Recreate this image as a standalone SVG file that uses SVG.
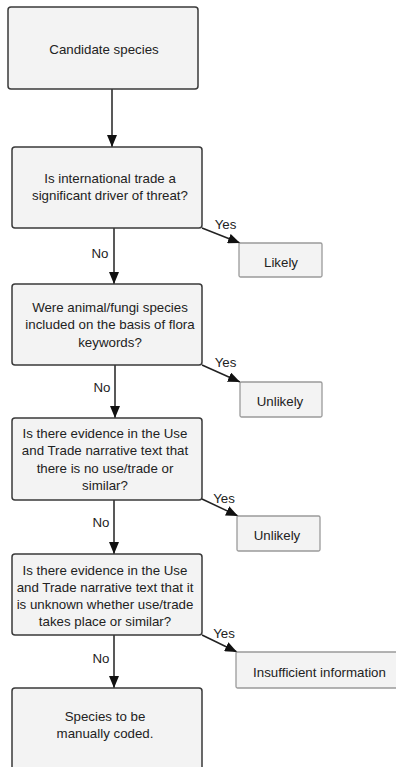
<svg xmlns="http://www.w3.org/2000/svg" width="396" height="767" viewBox="0 0 396 767">
<style>
.q{fill:#f3f3f3;stroke:#3a3a3a;stroke-width:1.5}
.o{fill:#f3f3f3;stroke:#9a9a9a;stroke-width:1.3}
.t{font-family:"Liberation Sans",Arial,sans-serif;font-size:13.3px;fill:#222;text-anchor:middle}
.c{stroke:#222;stroke-width:1.5;fill:none;marker-end:url(#ah)}
</style>
<defs>
<marker id="ah" viewBox="0 0 12 10" refX="12" refY="5" markerWidth="12" markerHeight="10" markerUnits="userSpaceOnUse" orient="auto">
<path d="M0,0 L12,5 L0,10 Z" fill="#111"/>
</marker>
</defs>
<rect width="396" height="767" fill="#fff"/>
<g id="connectors">
<line class="c" x1="112" y1="89" x2="112" y2="147"/>
<line class="c" x1="114" y1="228" x2="114" y2="284"/>
<line class="c" x1="115" y1="365" x2="115" y2="418"/>
<line class="c" x1="114" y1="500" x2="114" y2="554"/>
<line class="c" x1="114" y1="635" x2="114" y2="688"/>
<line class="c" x1="202" y1="228" x2="240" y2="243"/>
<line class="c" x1="202" y1="365" x2="240" y2="382"/>
<line class="c" x1="202" y1="499" x2="238" y2="516"/>
<line class="c" x1="202" y1="635" x2="237" y2="652"/>
<text class="t" x="225.5" y="229">Yes</text>
<text class="t" x="225.5" y="367">Yes</text>
<text class="t" x="224" y="503">Yes</text>
<text class="t" x="224" y="638">Yes</text>
<text class="t" x="100" y="258">No</text>
<text class="t" x="102" y="392">No</text>
<text class="t" x="101" y="527">No</text>
<text class="t" x="101" y="663">No</text>
</g>
<g id="n1"><rect class="q" x="8" y="7" width="190" height="82" rx="3"/><text class="t" x="104" y="53.5">Candidate species</text></g>
<g id="n2"><rect class="q" x="12" y="147" width="190" height="81" rx="3"/><text class="t" x="110" y="182.5">Is international trade a</text><text class="t" x="110" y="199.5">significant driver of threat?</text></g>
<g id="n3"><rect class="q" x="12" y="284" width="190" height="81" rx="3"/><text class="t" x="110" y="311.5">Were animal/fungi species</text><text class="t" x="110" y="329">included on the basis of flora</text><text class="t" x="110" y="346.5">keywords?</text></g>
<g id="n4"><rect class="q" x="12" y="418" width="190" height="82" rx="3"/><text class="t" x="105" y="437.5">Is there evidence in the Use</text><text class="t" x="105" y="455">and Trade narrative text that</text><text class="t" x="105" y="472.5">there is no use/trade or</text><text class="t" x="105" y="490">similar?</text></g>
<g id="n5"><rect class="q" x="12" y="554" width="190" height="81" rx="3"/><text class="t" x="105" y="574.5">Is there evidence in the Use</text><text class="t" x="105" y="591.5">and Trade narrative text that it</text><text class="t" x="105" y="608.5">is unknown whether use/trade</text><text class="t" x="105" y="625.5">takes place or similar?</text></g>
<g id="n6"><rect class="q" x="12" y="688" width="190" height="100" rx="3"/><text class="t" x="105" y="721">Species to be</text><text class="t" x="105" y="738">manually coded.</text></g>
<g id="likely"><rect class="o" x="239" y="243" width="83" height="34" rx="1.5"/><text class="t" x="281" y="266.5">Likely</text></g>
<g id="unlikely1"><rect class="o" x="240" y="382" width="82" height="35" rx="1.5"/><text class="t" x="280" y="405.5">Unlikely</text></g>
<g id="unlikely2"><rect class="o" x="237" y="516" width="83" height="35" rx="1.5"/><text class="t" x="277" y="539.5">Unlikely</text></g>
<g id="insufficient"><rect class="o" x="236" y="652" width="170" height="36" rx="1.5"/><text class="t" x="319.5" y="676.5">Insufficient information</text></g>
</svg>
